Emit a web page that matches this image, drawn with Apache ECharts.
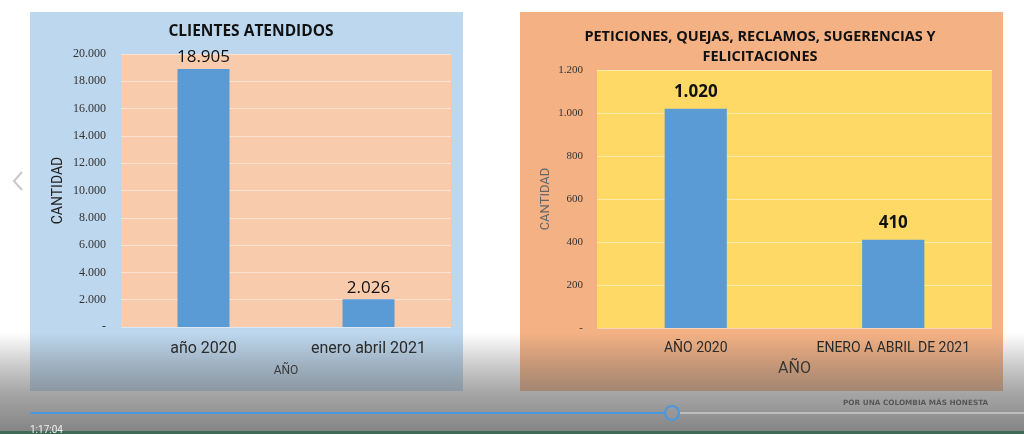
<!DOCTYPE html>
<html>
<head>
    <meta charset="utf-8">
    <script src="https://cdn.jsdelivr.net/npm/echarts@6/dist/echarts.min.js"></script>
    <title>Clientes y PQRSF</title>
    <style>
        html, body { margin: 0; padding: 0; background: #ffffff; }
    </style>
</head>
<body>
<div id="main" style="width:1024px; height:434px;"></div>
<script type="text/javascript">
    // datos
    var clientesCats = ['año 2020', 'enero abril 2021'];
    var clientesVals = [18905, 2026];
    var pqrsCats = ['AÑO 2020', 'ENERO A ABRIL DE 2021'];
    var pqrsVals = [1020, 410];

    function miles(v) {
        if (v === 0) return '-';
        return String(v).replace(/\B(?=(\d{3})+(?!\d))/g, '.');
    }

    var myChart = echarts.init(document.getElementById('main'));

    var option = {
        backgroundColor: '#ffffff',
        animation: false,
        title: [
            {
                text: 'CLIENTES ATENDIDOS',
                left: 246, top: 19, textAlign: 'center',
                textStyle: { fontFamily: 'Open Sans', fontWeight: 'bold', fontSize: 15.5, color: '#111' }
            },
            {
                text: 'PETICIONES, QUEJAS, RECLAMOS, SUGERENCIAS Y\nFELICITACIONES',
                left: 755, top: 22, textAlign: 'center',
                textStyle: { fontFamily: 'Open Sans', fontWeight: 'bold', fontSize: 14.5, lineHeight: 20, color: '#111' }
            }
        ],
        graphic: [
            // paneles
            { type: 'rect', z: -10, shape: { x: 30, y: 12, width: 433, height: 379 }, style: { fill: '#BDD7EE' } },
            { type: 'rect', z: -10, shape: { x: 520, y: 12, width: 483, height: 379 }, style: { fill: '#F4B183' } },
            // flecha izquierda
            { type: 'polyline', z: 5, shape: { points: [[22, 172], [14, 181], [22, 190]] }, style: { stroke: '#c8c8c8', lineWidth: 2, fill: null } },
            // logo
            { type: 'text', z: 4, left: 843, top: 400, style: { text: 'POR UNA COLOMBIA MÁS HONESTA', fontSize: 7.3, fontWeight: 'bold', fill: '#3a3a3a', fontFamily: 'DejaVu Sans' } },
            // capa del reproductor
            {
                type: 'rect', z: 50, shape: { x: 0, y: 333, width: 1024, height: 101 },
                style: {
                    fill: new echarts.graphic.LinearGradient(0, 0, 0, 1, [
                        { offset: 0, color: 'rgba(95,95,95,0)' },
                        { offset: 0.3, color: 'rgba(95,95,95,0.3)' },
                        { offset: 0.6, color: 'rgba(105,105,105,0.6)' },
                        { offset: 1, color: 'rgba(95,95,95,0.78)' }
                    ])
                }
            },
            { type: 'rect', z: 51, shape: { x: 0, y: 431, width: 1024, height: 3 }, style: { fill: '#3f6b57' } },
            { type: 'line', z: 52, shape: { x1: 680, y1: 413, x2: 1024, y2: 413 }, style: { stroke: '#bdbdbd', lineWidth: 2 } },
            { type: 'line', z: 52, shape: { x1: 30, y1: 413, x2: 665, y2: 413 }, style: { stroke: '#4a98e0', lineWidth: 2 } },
            { type: 'circle', z: 53, shape: { cx: 672, cy: 413, r: 7 }, style: { stroke: '#4a98e0', lineWidth: 2, fill: 'rgba(160,160,160,0.3)' } },
            { type: 'text', z: 53, left: 30, top: 425, style: { text: '1:17:04', fontSize: 10, fill: '#f0f0f0', fontFamily: 'Roboto' } }
        ],
        grid: [
            { left: 121, top: 54, width: 330, height: 273, show: true, backgroundColor: '#F8CBAD', borderWidth: 0 },
            { left: 597, top: 70, width: 395, height: 258, show: true, backgroundColor: '#FFD966', borderWidth: 0 }
        ],
        xAxis: [
            {
                gridIndex: 0, type: 'category', data: clientesCats,
                name: 'AÑO', nameLocation: 'middle', nameGap: 38,
                nameTextStyle: { fontFamily: 'Roboto', fontSize: 12, color: '#222' },
                axisLine: { show: false }, axisTick: { show: false },
                axisLabel: { interval: 0, margin: 14, fontFamily: 'Roboto', fontSize: 16, color: '#222' }
            },
            {
                gridIndex: 1, type: 'category', data: pqrsCats,
                name: 'AÑO', nameLocation: 'middle', nameGap: 33,
                nameTextStyle: { fontFamily: 'Roboto', fontSize: 16, color: '#222' },
                axisLine: { show: false }, axisTick: { show: false },
                axisLabel: { interval: 0, margin: 13, fontFamily: 'Roboto', fontSize: 14, color: '#222' }
            }
        ],
        yAxis: [
            {
                gridIndex: 0, type: 'value', min: 0, max: 20000, interval: 2000,
                name: 'CANTIDAD', nameLocation: 'middle', nameGap: 56, nameRotate: 90,
                nameTextStyle: { fontFamily: 'Roboto', fontSize: 14, color: '#222' },
                axisLine: { show: false }, axisTick: { show: false },
                axisLabel: { margin: 15, fontFamily: 'Liberation Serif', fontSize: 12, color: '#333', formatter: miles },
                splitLine: { lineStyle: { color: 'rgba(255,255,255,0.45)', width: 1 } }
            },
            {
                gridIndex: 1, type: 'value', min: 0, max: 1200, interval: 200,
                name: 'CANTIDAD', nameLocation: 'middle', nameGap: 45, nameRotate: 90,
                nameTextStyle: { fontFamily: 'Roboto', fontSize: 13, color: '#666' },
                axisLine: { show: false }, axisTick: { show: false },
                axisLabel: { margin: 14, fontFamily: 'Liberation Serif', fontSize: 11, color: '#333', formatter: miles },
                splitLine: { lineStyle: { color: 'rgba(255,255,255,0.45)', width: 1 } }
            }
        ],
        series: [
            {
                type: 'bar', xAxisIndex: 0, yAxisIndex: 0, data: clientesVals,
                barWidth: '31.5%',
                itemStyle: { color: '#5B9BD5' },
                label: {
                    show: true, position: 'top', distance: 3,
                    fontFamily: 'Open Sans', fontSize: 17, color: '#111',
                    formatter: function (p) { return miles(p.value); }
                }
            },
            {
                type: 'bar', xAxisIndex: 1, yAxisIndex: 1, data: pqrsVals,
                barWidth: '31.5%',
                itemStyle: { color: '#5B9BD5' },
                label: {
                    show: true, position: 'top', distance: 8,
                    fontFamily: 'Open Sans', fontWeight: 'bold', fontSize: 17, color: '#111',
                    formatter: function (p) { return miles(p.value); }
                }
            }
        ]
    };

    myChart.setOption(option);
</script>
</body>
</html>
